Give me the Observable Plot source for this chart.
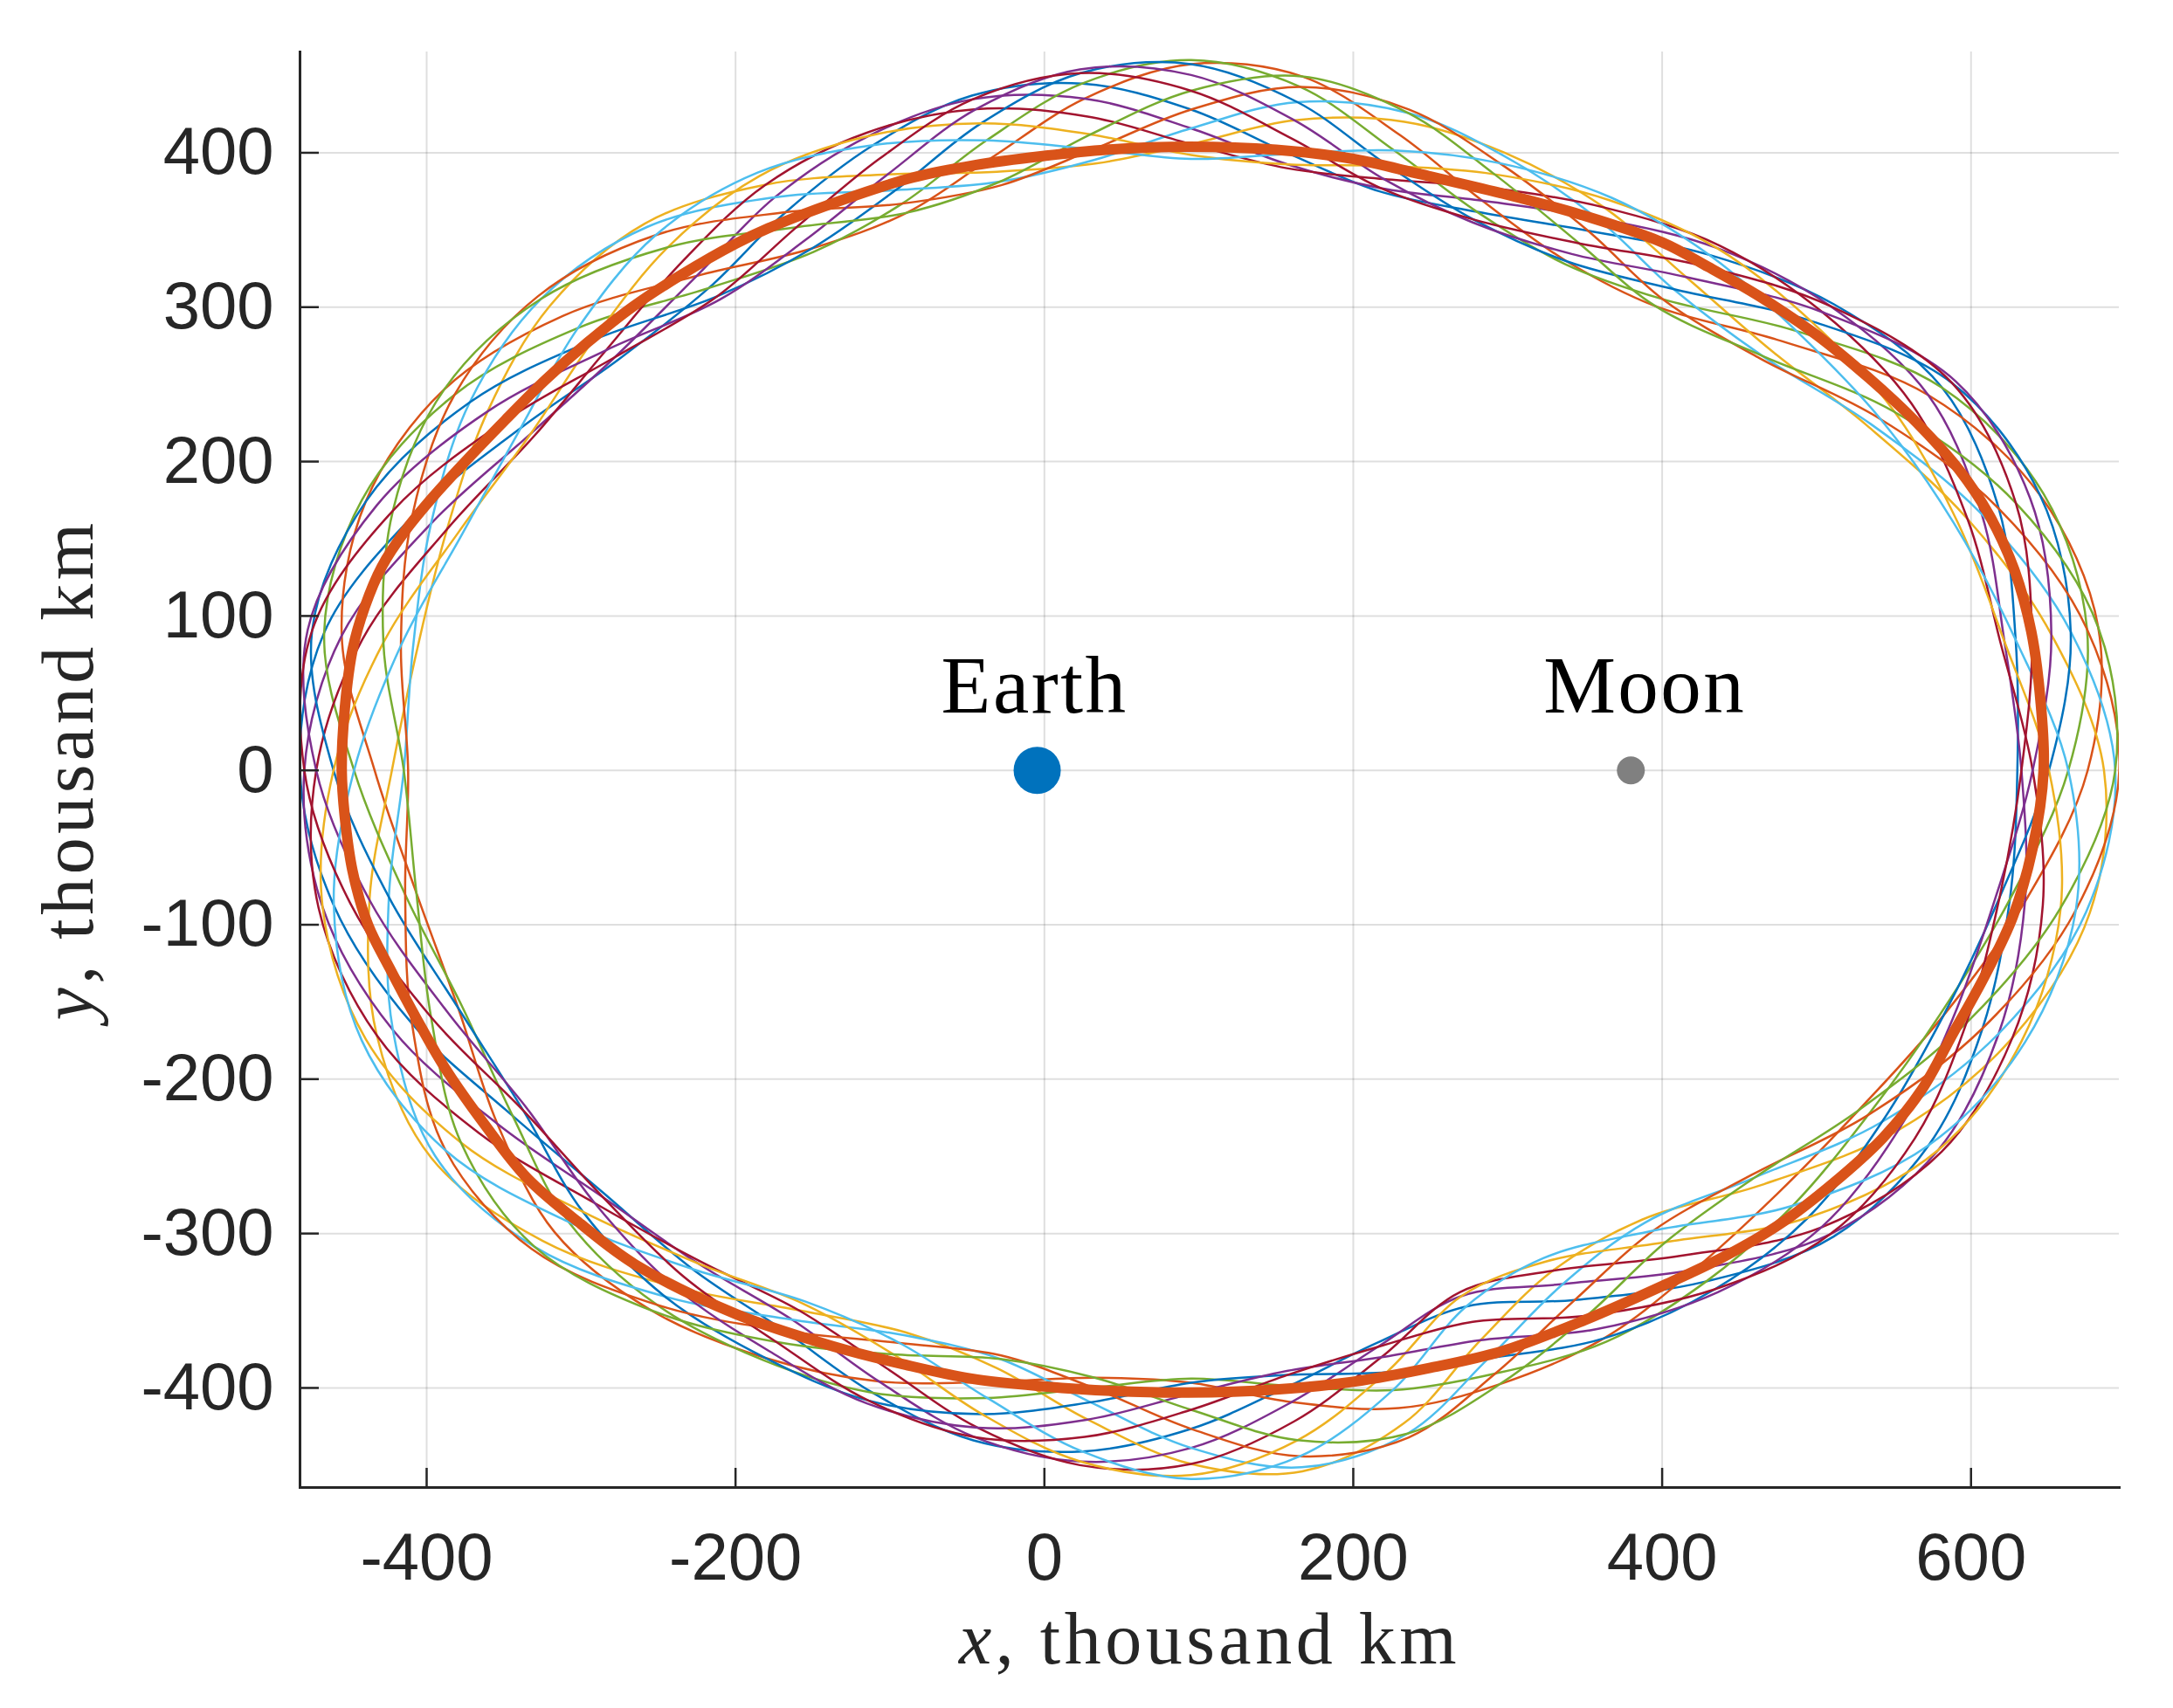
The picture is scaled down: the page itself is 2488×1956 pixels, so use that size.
<!DOCTYPE html>
<html>
<head>
<meta charset="utf-8">
<script src="https://cdn.jsdelivr.net/npm/d3@7"></script>
<script src="https://cdn.jsdelivr.net/npm/@observablehq/plot@0.6"></script>
<style>
  html, body { margin: 0; padding: 0; background: #ffffff; }
</style>
</head>
<body>
<div id="chart"></div>
<script>
// ---------- data (thousand km) ----------
const xTicks = [-400, -200, 0, 200, 400, 600];
const yTicks = [-400, -300, -200, -100, 0, 100, 200, 300, 400];
const xLabel = "x, thousand km";
const yLabel = "y, thousand km";

// thick periodic orbit
const orbitX = [647, 645, 639, 628, 612, 592, 565, 534, 500, 463, 430, 400, 347, 295, 244, 200, 150, 93, 40, 0, -45, -85, -135, -179, -200, -235, -267, -296, -323, -349, -375, -396, -414, -429, -440, -448, -453, -455, -453, -448, -438, -424, -407, -388, -362, -335, -300, -265, -200, -137, -90, -47, 0, 45, 93, 150, 200, 250, 297, 350, 400, 440, 476, 510, 543, 568, 588, 609, 627, 640];
const orbitY = [0, 45, 90, 130, 165, 195, 225, 254, 282, 307, 326, 342, 360, 374, 386, 396, 402, 404, 402, 398, 392, 384, 368, 351, 341, 321, 300, 277, 253, 227, 200, 177, 155, 132, 106, 78, 40, 0, -30, -65, -100, -128, -160, -193, -230, -264, -294, -320, -352, -373, -385, -394, -399, -402, -403, -401, -396, -387, -376, -356, -334, -315, -294, -268, -238, -207, -171, -133, -95, -50];

// inner and outer edges of the band of thin trajectories, at 40 stations around the orbit
const innerX = [630, 619, 589, 533, 463, 394, 337, 277, 217, 157, 95, 33, -28, -88, -149, -210, -276, -330, -377, -406, -412, -404, -377, -335, -284, -223, -155, -90, -28, 33, 95, 157, 215, 269, 323, 387, 458, 525, 580, 616];
const innerY = [0, 83, 160, 223, 267, 299, 328, 355, 375, 390, 396, 393, 379, 359, 336, 305, 266, 217, 153, 79, 0, -79, -153, -219, -275, -318, -344, -364, -379, -391, -394, -389, -371, -338, -316, -291, -262, -219, -158, -82];
const outerX = [696, 685, 647, 590, 511, 437, 367, 298, 236, 167, 95, 23, -47, -115, -186, -259, -328, -391, -442, -477, -482, -470, -442, -397, -332, -256, -182, -115, -46, 23, 95, 167, 236, 296, 364, 436, 511, 581, 635, 677];
const outerY = [0, 93, 179, 252, 302, 340, 371, 400, 428, 452, 460, 454, 437, 413, 387, 354, 307, 248, 175, 91, 0, -89, -175, -251, -310, -351, -382, -410, -434, -450, -459, -454, -432, -400, -370, -338, -302, -247, -176, -92];

// position across the band over one oscillation (0 = inner edge, 1 = outer edge)
const laneCycle = [0, 0.04, 0.15, 0.31, 0.5, 0.69, 0.85, 0.96, 1, 0.96, 0.85, 0.69, 0.5, 0.31, 0.15, 0.04];
// phase of each thin trajectory within that oscillation
const trackShift = [0, 5, 10, 15, 4, 9, 14, 3, 8, 13, 2, 7, 12, 1];

// primaries
const bodyNames = ["Earth", "Moon"];
const bodyX = [-4.67, 379.73];
const bodyY = [0, 0];

// ---------- tables built from the arrays ----------
const palette = ["#0072BD", "#D95319", "#EDB120", "#7E2F8E", "#77AC30", "#4DBEEE", "#A2142F"];
const trackNames = trackShift.map((_, t) => "T" + t);
const tracks = [];
trackShift.forEach((shift, t) => {
  innerX.forEach((_, s) => {
    const lane = laneCycle[(2 * s + shift) % laneCycle.length];
    tracks.push({
      track: trackNames[t],
      x: innerX[s] + lane * (outerX[s] - innerX[s]),
      y: innerY[s] + lane * (outerY[s] - innerY[s])
    });
  });
});
const orbit = orbitX.map((x, i) => ({x, y: orbitY[i]}));
const bodies = bodyNames.map((name, i) => ({name, x: bodyX[i], y: bodyY[i]}));

const ink = "#262626";
const sans = "'Liberation Sans', Arial, Helvetica, sans-serif";
const serif = "'Liberation Serif', 'Times New Roman', serif";

const chart = Plot.plot({
  width: 2488,
  height: 1956,
  marginLeft: 343,
  marginRight: 62,
  marginTop: 59,
  marginBottom: 253,
  style: {background: "#ffffff", overflow: "visible"},
  x: {domain: [-482, 696], axis: null},
  y: {domain: [-464.5, 465.3], axis: null},
  color: {type: "ordinal", domain: trackNames, range: palette},
  marks: [
    Plot.gridX(xTicks, {stroke: ink, strokeOpacity: 0.15, strokeWidth: 2}),
    Plot.gridY(yTicks, {stroke: ink, strokeOpacity: 0.15, strokeWidth: 2}),
    Plot.line(tracks, {x: "x", y: "y", z: "track", stroke: "track", strokeWidth: 2.5, curve: "catmull-rom-closed", clip: true}),
    Plot.line(orbit, {x: "x", y: "y", stroke: "#D95319", strokeWidth: 12, curve: "catmull-rom-closed"}),
    Plot.dot(bodies.filter(d => d.name === "Earth"), {x: "x", y: "y", r: 27, fill: "#0072BD"}),
    Plot.dot(bodies.filter(d => d.name === "Moon"), {x: "x", y: "y", r: 16, fill: "#808080"}),
    Plot.text(bodies.filter(d => d.name === "Earth"), {x: "x", y: "y", text: "name", dx: -3, dy: -66, lineAnchor: "bottom", fontSize: 93, fontFamily: serif, fill: "#000000"}),
    Plot.text(bodies.filter(d => d.name === "Moon"), {x: "x", y: "y", text: "name", dx: 16, dy: -66, lineAnchor: "bottom", fontSize: 93, fontFamily: serif, fill: "#000000"}),
    Plot.frame({anchor: "left", stroke: ink, strokeWidth: 3}),
    Plot.frame({anchor: "bottom", stroke: ink, strokeWidth: 3}),
    Plot.axisX(xTicks, {tickSize: 22, dy: -22, tickFormat: () => "", label: null, stroke: ink, strokeWidth: 2.5}),
    Plot.axisY(yTicks, {tickSize: 22, dx: 22, tickFormat: () => "", label: null, stroke: ink, strokeWidth: 2.5}),
    Plot.axisX(xTicks, {tickSize: 0, tickPadding: 52, tickFormat: d => String(d), label: null, fontSize: 76, fontFamily: sans, fill: ink}),
    Plot.axisY(yTicks, {tickSize: 0, tickPadding: 30, tickFormat: d => String(d), label: null, fontSize: 76, fontFamily: sans, fill: ink}),
    Plot.text([xLabel], {frameAnchor: "bottom", dy: 201, lineAnchor: "bottom", textAnchor: "middle", fontSize: 84, fontFamily: serif, fill: ink}),
    Plot.text([yLabel], {frameAnchor: "left", dx: -238, rotate: -90, lineAnchor: "bottom", textAnchor: "middle", fontSize: 84, fontFamily: serif, fill: ink})
  ]
});

// find a text element by its content
function findText(svg, content) {
  return Array.from(svg.querySelectorAll("text")).filter(t => t.textContent === content);
}
// italic variable letter in the axis titles (LaTeX style) and wider letter spacing
function styleTitle(svg, content) {
  findText(svg, content).forEach(t => {
    t.textContent = "";
    const ts = document.createElementNS("http://www.w3.org/2000/svg", "tspan");
    ts.setAttribute("font-style", "italic");
    ts.textContent = content[0];
    t.appendChild(ts);
    t.appendChild(document.createTextNode(content.slice(1)));
    t.setAttribute("letter-spacing", "4.5");
    t.style.letterSpacing = "4.5px";
  });
}
styleTitle(chart, xLabel);
styleTitle(chart, yLabel);
bodyNames.forEach(name => findText(chart, name).forEach(t => {
  t.setAttribute("letter-spacing", "2.5");
  t.style.letterSpacing = "2.5px";
}));

document.getElementById("chart").appendChild(chart);
</script>
</body>
</html>
